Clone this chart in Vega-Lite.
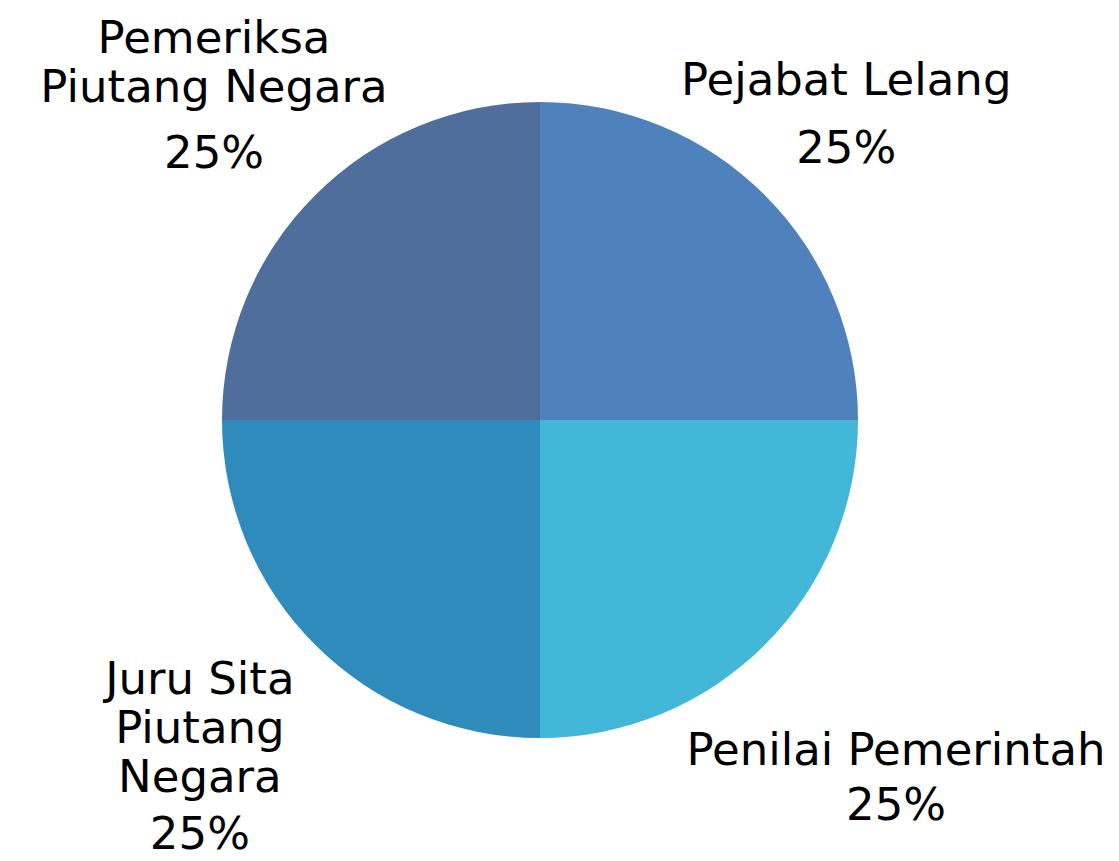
{
  "$schema": "https://vega.github.io/schema/vega-lite/v6.json",
  "width": 1080,
  "height": 840,
  "autosize": "none",
  "padding": {"left": 0, "top": 0, "right": 39, "bottom": 21},
  "background": "white",
  "config": {"view": {"stroke": null}},
  "data": {"values": [
    {"category": "Pejabat Lelang", "label": "Pejabat Lelang", "share": 0.25, "idx": 1},
    {"category": "Penilai Pemerintah", "label": "Penilai Pemerintah", "share": 0.25, "idx": 2},
    {"category": "Juru Sita Piutang Negara", "label": "Juru Sita\nPiutang\nNegara", "share": 0.25, "idx": 3},
    {"category": "Pemeriksa Piutang Negara", "label": "Pemeriksa\nPiutang Negara", "share": 0.25, "idx": 4}
  ]},
  "encoding": {
    "theta": {"field": "share", "type": "quantitative", "stack": true},
    "order": {"field": "idx", "type": "quantitative"}
  },
  "layer": [
    {
      "mark": {"type": "arc", "radius": 318},
      "encoding": {
        "color": {
          "field": "category", "type": "nominal", "legend": null,
          "scale": {
            "domain": ["Pejabat Lelang", "Penilai Pemerintah", "Juru Sita Piutang Negara", "Pemeriksa Piutang Negara"],
            "range": ["#4F81BD", "#42B7D7", "#2E8BBB", "#4F6E9B"]
          }
        }
      }
    },
    {
      "mark": {"type": "text", "radius": 433, "dy": -19, "font": "DejaVu Sans", "fontSize": 45, "lineHeight": 49, "lineBreak": "\n", "align": "center", "baseline": "alphabetic", "color": "black"},
      "encoding": {"text": {"condition": {"test": "datum.category === 'Pejabat Lelang'", "field": "label", "type": "nominal"}, "value": ""}}
    },
    {
      "mark": {"type": "text", "radius": 433, "dy": 49, "font": "DejaVu Sans", "fontSize": 45, "align": "center", "baseline": "alphabetic", "color": "black"},
      "encoding": {"text": {"condition": {"test": "datum.category === 'Pejabat Lelang'", "field": "share", "type": "quantitative", "format": ".0%"}, "value": ""}}
    },
    {
      "mark": {"type": "text", "radius": 503.5, "dy": -11, "font": "DejaVu Sans", "fontSize": 45, "lineHeight": 49, "lineBreak": "\n", "align": "center", "baseline": "alphabetic", "color": "black"},
      "encoding": {"text": {"condition": {"test": "datum.category === 'Penilai Pemerintah'", "field": "label", "type": "nominal"}, "value": ""}}
    },
    {
      "mark": {"type": "text", "radius": 503.5, "dy": 44, "font": "DejaVu Sans", "fontSize": 45, "align": "center", "baseline": "alphabetic", "color": "black"},
      "encoding": {"text": {"condition": {"test": "datum.category === 'Penilai Pemerintah'", "field": "share", "type": "quantitative", "format": ".0%"}, "value": ""}}
    },
    {
      "mark": {"type": "text", "radius": 481, "dy": -66, "font": "DejaVu Sans", "fontSize": 45, "lineHeight": 49, "lineBreak": "\n", "align": "center", "baseline": "alphabetic", "color": "black"},
      "encoding": {"text": {"condition": {"test": "datum.category === 'Juru Sita Piutang Negara'", "field": "label", "type": "nominal"}, "value": ""}}
    },
    {
      "mark": {"type": "text", "radius": 481, "dy": 89, "font": "DejaVu Sans", "fontSize": 45, "align": "center", "baseline": "alphabetic", "color": "black"},
      "encoding": {"text": {"condition": {"test": "datum.category === 'Juru Sita Piutang Negara'", "field": "share", "type": "quantitative", "format": ".0%"}, "value": ""}}
    },
    {
      "mark": {"type": "text", "radius": 461, "dy": -41, "font": "DejaVu Sans", "fontSize": 45, "lineHeight": 49, "lineBreak": "\n", "align": "center", "baseline": "alphabetic", "color": "black"},
      "encoding": {"text": {"condition": {"test": "datum.category === 'Pemeriksa Piutang Negara'", "field": "label", "type": "nominal"}, "value": ""}}
    },
    {
      "mark": {"type": "text", "radius": 461, "dy": 74, "font": "DejaVu Sans", "fontSize": 45, "align": "center", "baseline": "alphabetic", "color": "black"},
      "encoding": {"text": {"condition": {"test": "datum.category === 'Pemeriksa Piutang Negara'", "field": "share", "type": "quantitative", "format": ".0%"}, "value": ""}}
    }
  ]
}
